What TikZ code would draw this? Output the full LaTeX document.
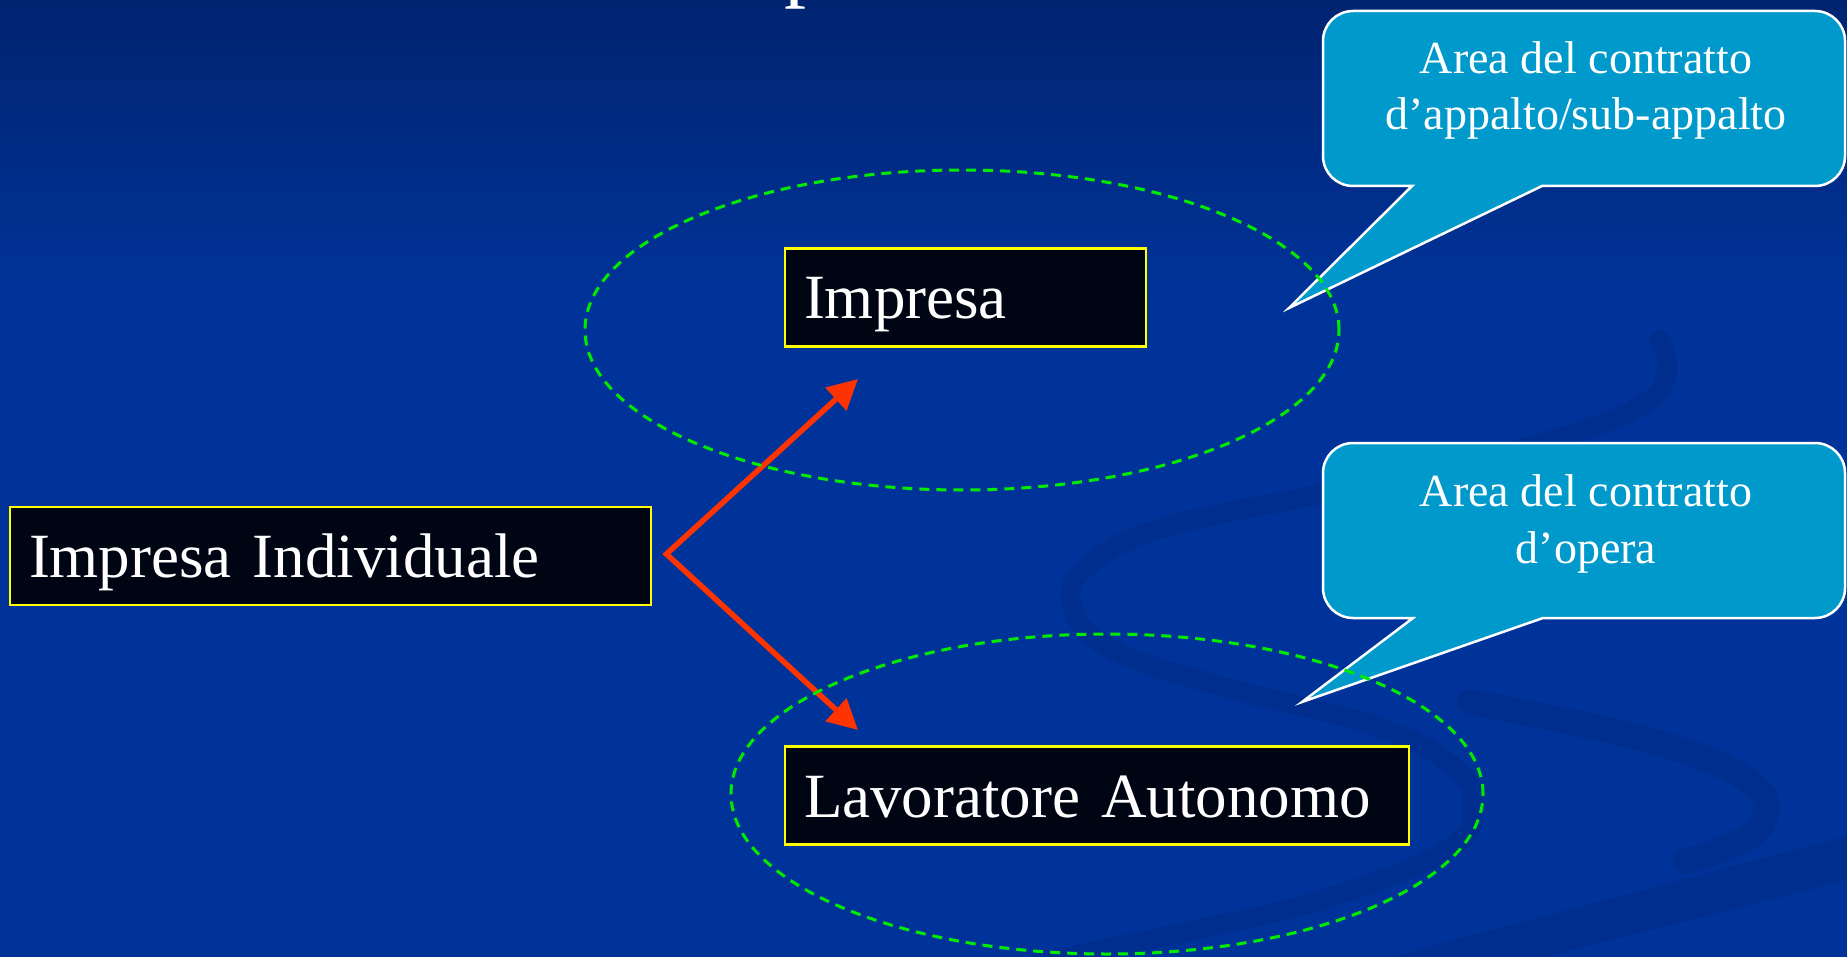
\documentclass[tikz,border=0pt]{standalone}
\usepackage{fontspec}
\setmainfont{Liberation Serif}
\usetikzlibrary{arrows.meta,calc}
\definecolor{bgtop}{RGB}{0,36,112}
\definecolor{bgmain}{RGB}{0,51,153}
\definecolor{swirlc}{RGB}{0,46,142}
\definecolor{boxfill}{RGB}{0,5,20}
\definecolor{boxline}{RGB}{255,255,0}
\definecolor{arrowred}{RGB}{255,51,0}
\definecolor{ellgreen}{RGB}{0,235,0}
\definecolor{callfill}{RGB}{0,153,204}
\begin{document}
\begin{tikzpicture}[x=1pt,y=1pt,
  labelbox/.style={draw=boxline, fill=boxfill, line width=2.8pt, text=white,
    font=\fontsize{63}{70}\selectfont, inner xsep=19pt, inner ysep=0pt,
    text height=43pt, text depth=0pt, align=left, minimum height=98pt},
  calltext/.style={text=white, font=\fontsize{46}{56}\selectfont, anchor=base, inner sep=0pt},
  callshape/.style={fill=callfill, draw=white, line width=2.5pt, line join=miter},
  zone/.style={draw=ellgreen, line width=3pt, dash pattern=on 10pt off 7pt},
  redarrow/.style={draw=arrowred, line width=5.5pt, line join=miter,
    {Triangle[length=30pt,width=30pt]}-{Triangle[length=30pt,width=30pt]}},
  swirl/.style={draw=swirlc, line cap=round, line join=round},
  titletext/.style={text=white, font=\fontsize{88}{96}\selectfont, inner sep=0pt, anchor=base west}
]
\useasboundingbox (0,0) rectangle (1847,-957);
\clip (0,0) rectangle (1847,-957);

% background
\fill[bgmain] (0,0) rectangle (1847,-957);
\shade[top color=bgtop, bottom color=bgmain] (0,0) rectangle (1847,-300);

% decorative swirls
\draw[swirl, line width=20pt] plot[smooth, tension=0.7] coordinates {
  (1660,-340) (1650,-400) (1500,-455) (1324,-493) (1162,-528)
  (1088,-566) (1072,-605) (1110,-648) (1216,-685) (1378,-727) (1455,-768)
  (1472,-805) (1450,-848) (1324,-899) (1162,-937) (1040,-962)};
\draw[swirl, line width=26pt] plot[smooth, tension=0.7] coordinates {
  (1470,-702) (1648,-740) (1750,-782) (1762,-824) (1720,-850) (1686,-861)};
\fill[swirlc] (1390,-957) -- (1847,-836) -- (1847,-880) -- (1545,-957) -- cycle;

% cut title letter
\node[titletext] (tp) at (784,9) {p};

% callouts
\path[callshape] (1353,-11) -- (1815,-11) arc[start angle=90,end angle=0,radius=30]
  -- (1845,-156) arc[start angle=0,end angle=-90,radius=30]
  -- (1542,-186) -- (1289,-308) -- (1412,-186)
  -- (1353,-186) arc[start angle=270,end angle=180,radius=30]
  -- (1323,-41) arc[start angle=180,end angle=90,radius=30] -- cycle;
\node[calltext] (c1a) at (1586,-74) {Area del contratto};
\node[calltext] (c1b) at (1586,-130) {d’appalto/sub-appalto};

\path[callshape] (1353,-443) -- (1815,-443) arc[start angle=90,end angle=0,radius=30]
  -- (1845,-588) arc[start angle=0,end angle=-90,radius=30]
  -- (1543,-618) -- (1302,-702) -- (1413,-618)
  -- (1353,-618) arc[start angle=270,end angle=180,radius=30]
  -- (1323,-473) arc[start angle=180,end angle=90,radius=30] -- cycle;
\node[calltext] (c2a) at (1586,-506) {Area del contratto};
\node[calltext] (c2b) at (1586,-563) {d’opera};

% boxes
\node[labelbox, text width=323pt] (imp) at (965.5,-297.5) {Impresa};
\node[labelbox, text width=603pt] (ind) at (330.5,-556) {Impresa Individuale};
\node[labelbox, text width=586pt] (lav) at (1097,-795.5) {Lavoratore Autonomo};

% arrows
\coordinate (v) at ($(ind.east)+(14,2)$);
\coordinate (t1) at (858,-379);
\coordinate (t2) at (858,-730);
\draw[redarrow] (t1) -- (v) -- (t2);

% dashed zones
\draw[zone] (962,-330) ellipse [x radius=377, y radius=160];
\draw[zone] (1107,-794) ellipse [x radius=376, y radius=160];
\end{tikzpicture}
\end{document}
